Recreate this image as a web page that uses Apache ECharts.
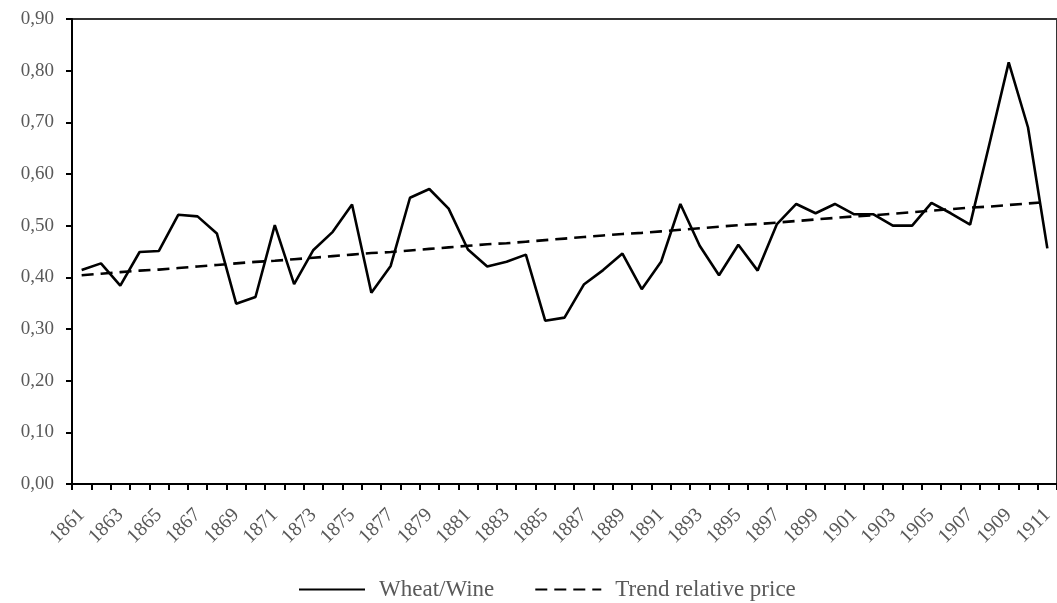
<!DOCTYPE html>
<html>
<head>
<meta charset="utf-8">
<script src="https://cdn.jsdelivr.net/npm/echarts@6/dist/echarts.min.js"></script>
<style>
  html, body { margin: 0; padding: 0; background: #fff; }
  #chart { width: 1057px; height: 603px; }
</style>
</head>
<body>
<div id="chart"></div>
<script>
// Years on the category axis
const years = [
  '1861','1862','1863','1864','1865','1866','1867','1868','1869','1870',
  '1871','1872','1873','1874','1875','1876','1877','1878','1879','1880',
  '1881','1882','1883','1884','1885','1886','1887','1888','1889','1890',
  '1891','1892','1893','1894','1895','1896','1897','1898','1899','1900',
  '1901','1902','1903','1904','1905','1906','1907','1908','1909','1910',
  '1911'
];

// Relative price of wheat to wine
const wheatWine = [
  0.414, 0.427, 0.384, 0.449, 0.451, 0.521, 0.518, 0.485, 0.349, 0.362,
  0.501, 0.387, 0.453, 0.488, 0.541, 0.370, 0.422, 0.554, 0.571, 0.533,
  0.454, 0.421, 0.430, 0.444, 0.316, 0.322, 0.386, 0.414, 0.446, 0.377,
  0.430, 0.542, 0.461, 0.404, 0.463, 0.413, 0.503, 0.542, 0.524, 0.542,
  0.522, 0.522, 0.500, 0.500, 0.544, 0.524, 0.502, 0.658, 0.816, 0.690,
  0.456
];

// Linear trend of the relative price
const trendPrice = [
  0.404, 0.407, 0.410, 0.413, 0.415, 0.418, 0.421, 0.424, 0.427, 0.430,
  0.432, 0.435, 0.438, 0.441, 0.444, 0.447, 0.449, 0.452, 0.455, 0.458,
  0.461, 0.464, 0.466, 0.469, 0.472, 0.475, 0.478, 0.481, 0.484, 0.486,
  0.489, 0.492, 0.495, 0.498, 0.501, 0.503, 0.506, 0.509, 0.512, 0.515,
  0.518, 0.520, 0.523, 0.526, 0.529, 0.532, 0.535, 0.537, 0.540, 0.543,
  0.546
];

// Y-axis tick labels (decimal comma)
const yTickLabels = ['0,00','0,10','0,20','0,30','0,40','0,50','0,60','0,70','0,80','0,90'];

const seriesNames = ['Wheat/Wine', 'Trend relative price'];

const FONT = '"Liberation Serif", "Times New Roman", serif';
const TEXT_COLOR = '#595959';

const chart = echarts.init(document.getElementById('chart'), null, { renderer: 'canvas' });

chart.setOption({
  animation: false,
  backgroundColor: '#fff',
  grid: {
    left: 72,
    top: 19,
    right: -2,
    bottom: 119,
    containLabel: false,
    show: true,
    borderColor: '#333',
    borderWidth: 2,
    backgroundColor: 'transparent'
  },
  legend: {
    left: 298,
    top: 578,
    padding: 0,
    itemWidth: 66,
    itemHeight: 14,
    itemGap: 40,
    data: seriesNames,
    itemStyle: { color: 'transparent', borderColor: 'transparent', borderWidth: 0, opacity: 0 },
    textStyle: {
      fontFamily: FONT,
      fontSize: 23,
      color: TEXT_COLOR,
      padding: [0, 0, 0, 9]
    }
  },
  xAxis: {
    type: 'category',
    data: years,
    boundaryGap: true,
    axisLine: { show: true, lineStyle: { color: '#000', width: 2 } },
    axisTick: { show: true, interval: 0, length: 6, inside: false, lineStyle: { color: '#000', width: 2 } },
    axisLabel: {
      interval: 1,
      rotate: 45,
      margin: 28,
      fontFamily: FONT,
      fontSize: 20,
      color: TEXT_COLOR
    },
    splitLine: { show: false }
  },
  yAxis: {
    type: 'value',
    min: 0,
    max: 0.9,
    interval: 0.1,
    axisLine: { show: true, lineStyle: { color: '#000', width: 2 } },
    axisTick: { show: true, length: 6, inside: false, lineStyle: { color: '#000', width: 2 } },
    axisLabel: {
      margin: 18,
      fontFamily: FONT,
      fontSize: 19,
      color: TEXT_COLOR,
      formatter: function (v) { return yTickLabels[Math.round(v * 10)]; }
    },
    splitLine: { show: false }
  },
  series: [
    {
      name: seriesNames[0],
      type: 'line',
      data: wheatWine,
      symbol: 'none',
      lineStyle: { color: '#000', width: 2.6 },
      itemStyle: { color: '#000' }
    },
    {
      name: seriesNames[1],
      type: 'line',
      data: trendPrice,
      symbol: 'none',
      lineStyle: { color: '#000', width: 2.6, type: [12, 7] },
      itemStyle: { color: '#000' }
    }
  ]
});
</script>
</body>
</html>
